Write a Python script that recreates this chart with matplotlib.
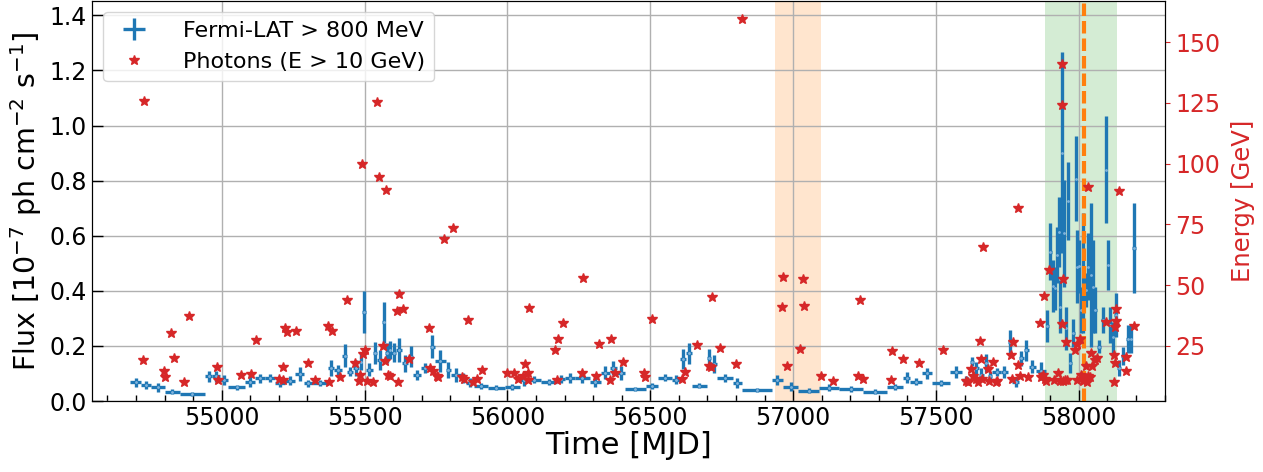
import numpy as np
import matplotlib
matplotlib.use("Agg")
import matplotlib.pyplot as plt

# ---------------- data ----------------
# Fermi-LAT light curve (> 800 MeV), adaptive bins: bin edges [MJD]
bin_edges = [
    54679.0, 54719.3, 54754.3, 54801.5, 54854.0, 54941.5, 54967.8, 54995.8, 55023.8, 55083.3,
    55116.6, 55151.6, 55186.6, 55221.6, 55258.3, 55288.0, 55319.6, 55372.0, 55393.0, 55422.8,
    55440.3, 55459.6, 55480.6, 55492.8, 55505.0, 55529.6, 55545.3, 55561.0, 55573.3, 55583.8,
    55594.3, 55610.0, 55631.0, 55652.0, 55671.3, 55697.6, 55729.0, 55746.6, 55785.0, 55802.6,
    55837.6, 55855.0, 55883.0, 55932.0, 55991.6, 56044.0, 56072.0, 56117.6, 56173.6, 56201.6,
    56236.6, 56289.0, 56327.6, 56359.0, 56383.6, 56411.6, 56485.0, 56527.0, 56576.0, 56604.0,
    56625.0, 56646.0, 56698.6, 56712.6, 56732.5, 56790.6, 56820.0, 56925.0, 56965.6, 57018.0,
    57090.6, 57161.6, 57243.5, 57327.5, 57385.6, 57409.0, 57450.0, 57485.0, 57549.0, 57590.0,
    57619.0, 57633.0, 57650.6, 57668.0, 57683.8, 57697.8, 57726.5, 57752.0, 57767.8, 57790.6,
    57808.0, 57825.6, 57849.0, 57884.0,
    57895.6, 57906.0, 57913.8, 57920.8, 57927.0, 57932.0, 57937.6, 57943.5, 57950.0, 57957.0,
    57964.5, 57975.0, 57985.5, 57992.5, 57997.8, 58005.5, 58012.8, 58019.8, 58028.6, 58038.0,
    58045.7, 58052.7, 58063.6, 58079.3, 58091.6, 58097.5, 58105.6, 58116.0, 58124.0, 58134.0,
    58148.0, 58164.0, 58178.0, 58187.8, 58200.0,
]
# flux [1e-7 ph cm^-2 s^-1]
flux = [
    0.068, 0.057, 0.050, 0.034, 0.025, 0.089, 0.089, 0.077, 0.050, 0.070,
    0.083, 0.083, 0.067, 0.073, 0.098, 0.065, 0.065, 0.119, 0.113, 0.164,
    0.107, 0.119, 0.143, 0.322, 0.113, 0.174, 0.149, 0.285, 0.174, 0.185,
    0.176, 0.185, 0.137, 0.161, 0.095, 0.119, 0.197, 0.146, 0.113, 0.095,
    0.083, 0.067, 0.056, 0.049, 0.052, 0.077, 0.077, 0.068, 0.080, 0.083,
    0.085, 0.068, 0.103, 0.119, 0.103, 0.043, 0.056, 0.085, 0.077, 0.153,
    0.174, 0.056, 0.155, 0.134, 0.083, 0.065, 0.040, 0.077, 0.052, 0.037,
    0.049, 0.043, 0.034, 0.050, 0.085, 0.070, 0.101, 0.065, 0.105, 0.077,
    0.143, 0.119, 0.095, 0.138, 0.089, 0.105, 0.105, 0.216, 0.070, 0.155,
    0.185, 0.125, 0.110,
    0.272, 0.542, 0.418, 0.409, 0.530, 0.615, 0.343, 0.902, 0.609, 0.264,
    0.727, 0.137, 0.247, 0.807, 0.488, 0.489, 0.331, 0.465, 0.403, 0.488,
    0.458, 0.415, 0.331, 0.197, 0.294, 0.839, 0.494, 0.276, 0.231, 0.313,
    0.119, 0.164, 0.225, 0.225, 0.555,
]
flux_err = [
    0.017, 0.015, 0.016, 0.009, 0.008, 0.021, 0.020, 0.019, 0.009, 0.019,
    0.016, 0.015, 0.015, 0.016, 0.024, 0.013, 0.011, 0.030, 0.018, 0.042,
    0.015, 0.030, 0.029, 0.076, 0.024, 0.041, 0.036, 0.073, 0.036, 0.033,
    0.033, 0.042, 0.030, 0.039, 0.018, 0.018, 0.042, 0.039, 0.029, 0.025,
    0.018, 0.015, 0.011, 0.009, 0.011, 0.021, 0.013, 0.011, 0.015, 0.018,
    0.018, 0.016, 0.024, 0.025, 0.025, 0.007, 0.011, 0.013, 0.016, 0.036,
    0.038, 0.009, 0.033, 0.033, 0.015, 0.018, 0.007, 0.018, 0.016, 0.009,
    0.011, 0.011, 0.009, 0.011, 0.021, 0.013, 0.020, 0.011, 0.023, 0.015,
    0.016, 0.024, 0.024, 0.032, 0.015, 0.015, 0.021, 0.041, 0.018, 0.027,
    0.038, 0.024, 0.033,
    0.059, 0.103, 0.094, 0.079, 0.103, 0.127, 0.097, 0.366, 0.194, 0.079,
    0.142, 0.036, 0.050, 0.155, 0.133, 0.096, 0.083, 0.218, 0.062, 0.121,
    0.261, 0.169, 0.083, 0.024, 0.048, 0.194, 0.091, 0.066, 0.057, 0.079,
    0.030, 0.033, 0.051, 0.051, 0.163,
]

# Individual photons with E > 10 GeV
photon_mjd = [
    54726, 54729, 54798, 54801, 54822, 54833, 54868, 54887, 54983, 54988,
    55068, 55101, 55120, 55202, 55213, 55216, 55222, 55228, 55259, 55303,
    55327, 55373, 55376, 55385, 55414, 55437, 55468, 55481, 55484, 55490,
    55496, 55502, 55507, 55531, 55542, 55552, 55563, 55572, 55574, 55583,
    55589, 55612, 55616, 55620, 55634, 55656, 55727, 55729, 55741, 55753,
    55756, 55779, 55808, 55840, 55849, 55863, 55881, 55893, 55910, 56000,
    56023, 56038, 56054, 56062, 56071, 56073, 56076, 56167, 56175, 56176,
    56196, 56262, 56266, 56309, 56321, 56359, 56363, 56377, 56403, 56479,
    56482, 56505, 56612, 56622, 56663, 56706, 56713, 56717, 56744, 56800,
    56820, 56962, 56966, 56980, 57024, 57034, 57038, 57097, 57141, 57226,
    57234, 57246, 57342, 57345, 57386, 57442, 57526, 57604, 57611, 57623,
    57631, 57639, 57648, 57654, 57658, 57660, 57666, 57681, 57687, 57701,
    57709, 57713, 57763, 57765, 57771, 57786, 57788, 57794, 57823, 57864,
    57866, 57876, 57879, 57880, 57885, 57896, 57914, 57926, 57934, 57940,
    57942, 57942, 57943, 57946, 57952, 57955, 57960, 57986, 57992, 57994,
    58003, 58008, 58013, 58022, 58025, 58028, 58033, 58033, 58039, 58042,
    58045, 58057, 58063, 58094, 58123, 58124, 58127, 58127, 58129, 58130,
    58141, 58165, 58165, 58193,
]
photon_energy = [
    19.2, 125.9, 14.7, 12.0, 30.2, 19.9, 10.0, 37.4, 16.2, 11.0,
    13.1, 13.5, 27.5, 11.4, 11.0, 16.1, 32.5, 30.6, 31.2, 17.9,
    11.0, 33.2, 10.0, 31.2, 12.1, 43.7, 18.1, 10.6, 13.1, 99.8,
    21.7, 23.1, 10.6, 10.0, 125.6, 94.7, 25.0, 18.8, 89.0, 13.1,
    12.4, 39.4, 10.3, 46.3, 40.1, 19.6, 32.3, 15.8, 14.8, 12.4,
    12.0, 69.1, 73.5, 12.0, 11.4, 35.7, 10.3, 11.3, 15.1, 14.0,
    14.0, 11.3, 12.6, 17.5, 11.0, 13.8, 40.5, 23.4, 11.0, 27.9,
    34.6, 13.8, 53.1, 12.6, 25.7, 11.0, 27.9, 14.0, 18.5, 14.0,
    12.0, 36.1, 11.4, 14.4, 25.4, 16.9, 16.1, 45.3, 24.3, 17.6,
    159.6, 41.2, 53.3, 16.8, 23.6, 52.6, 41.5, 12.4, 10.6, 12.6,
    43.7, 11.4, 11.0, 22.7, 19.5, 17.9, 23.1, 10.6, 10.0, 15.4,
    12.6, 11.4, 10.3, 27.2, 19.5, 11.3, 65.9, 15.4, 10.6, 18.5,
    10.3, 10.6, 21.3, 11.3, 26.5, 17.2, 81.7, 12.6, 12.0, 34.4,
    12.0, 13.1, 45.7, 11.4, 10.6, 56.3, 11.0, 14.0, 10.6, 124.3,
    141.0, 34.1, 52.5, 10.6, 11.0, 26.5, 11.0, 23.1, 11.0, 25.6,
    27.7, 13.1, 10.6, 11.4, 16.8, 10.3, 12.4, 90.4, 12.0, 22.0,
    16.9, 19.2, 20.2, 34.8, 21.3, 10.0, 32.7, 18.1, 40.2, 35.4,
    88.8, 20.6, 14.7, 33.2,
]

# periods / events [MJD]
flare_2014 = (56937.8, 57096.2)
flare_2017 = (57882.0, 58132.0)
neutrino_2017 = 58018.87

# ---------------- plot ----------------
edges = np.array(bin_edges)
centers = 0.5 * (edges[1:] + edges[:-1])
half_w = 0.5 * (edges[1:] - edges[:-1])

fig = plt.figure(figsize=(12.63, 4.72), dpi=100)
ax = fig.add_axes([0.0728, 0.1504, 0.9227 - 0.0728, 0.9979 - 0.1504])

ax.axvspan(*flare_2014, color="tab:orange", alpha=0.2, lw=0, zorder=0)
ax.axvspan(*flare_2017, color="tab:green", alpha=0.2, lw=0, zorder=0)

eb = ax.errorbar(centers, flux, xerr=half_w, yerr=flux_err, fmt="none",
                 ecolor="tab:blue", elinewidth=2.4, capsize=0, zorder=3,
                 label="Fermi-LAT > 800 MeV")
ax.plot(centers, flux, ".", color="#7fb3dc", ms=2, zorder=4)
ax.axvline(neutrino_2017, color="tab:orange", lw=3, ls=(0, (3.0, 1.2)), zorder=5)

ax.set_xlim(54546, 58303)
ax.set_ylim(0, 1.452)
ax.set_xticks([55000, 55500, 56000, 56500, 57000, 57500, 58000])
ax.set_xticks(np.arange(54600, 58301, 100), minor=True)
ax.set_yticks([0.0, 0.2, 0.4, 0.6, 0.8, 1.0, 1.2, 1.4])
ax.grid(True, which="major", color="#b0b0b0", lw=1)
ax.set_axisbelow(True)
ax.tick_params(axis="both", which="major", direction="in", length=8, width=1,
               labelsize=17)
ax.tick_params(axis="x", which="minor", direction="in", length=4, width=1)
ax.set_xlabel("Time [MJD]", fontsize=22, labelpad=1)
ax.set_ylabel(r"Flux [$10^{-7}$ ph cm$^{-2}$ s$^{-1}$]", fontsize=20.5, labelpad=4)

ax2 = ax.twinx()
st, = ax2.plot(photon_mjd, photon_energy, "*", color="tab:red", ms=7,
               ls="none", zorder=6, label="Photons (E > 10 GeV)")
ax2.set_ylim(2.3, 167)
ax2.set_yticks([25, 50, 75, 100, 125, 150])
ax2.tick_params(axis="y", direction="out", length=3.5, colors="tab:red",
                labelsize=17)
ax2.set_ylabel("Energy [GeV]", color="tab:red", fontsize=17.5, labelpad=8)

h1, l1 = ax.get_legend_handles_labels()
h2, l2 = ax2.get_legend_handles_labels()
ax2.legend(h1 + h2, l1 + l2, loc="upper left", fontsize=16,
           bbox_to_anchor=(0.0, 1.0), borderaxespad=0.5, handletextpad=1.2)

fig.savefig("out.png", dpi=100)
